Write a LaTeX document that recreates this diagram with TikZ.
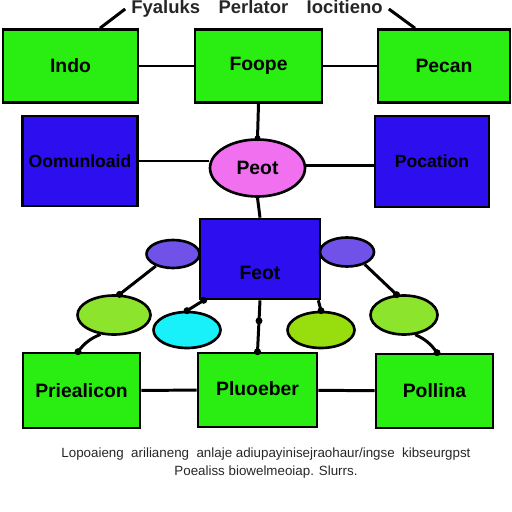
\documentclass[tikz,border=0pt]{standalone}
\usepackage{fontspec}
\setmainfont{Liberation Sans}
\usepackage{xcolor}
\usetikzlibrary{positioning, arrows.meta, shapes.geometric}

\definecolor{boxgreen}{RGB}{42,238,18}
\definecolor{boxblue}{RGB}{44,14,238}
\definecolor{ovpink}{RGB}{240,112,240}
\definecolor{ovpurple}{RGB}{112,82,232}
\definecolor{ovlgreen}{RGB}{140,228,44}
\definecolor{ovcyan}{RGB}{24,240,250}
\definecolor{ovlime}{RGB}{152,222,14}

\begin{document}
\begin{tikzpicture}[
    x=0.2mm, y=-0.2mm,
    gbox/.style={rectangle, draw=black, line width=1.5pt, fill=boxgreen,
                 minimum width=26mm, minimum height=14.6mm, font=\bfseries\fontsize{11}{13}\selectfont},
    bbox/.style={rectangle, draw=black, line width=1.5pt, fill=boxblue,
                 minimum width=23mm, minimum height=18mm, font=\bfseries\fontsize{10}{12}\selectfont},
    oval/.style={ellipse, draw=black, line width=1.5pt, inner sep=0pt},
    link/.style={line width=1.7pt, black},
    dot/.style={circle, fill=black, inner sep=0pt, minimum size=1.4mm}
]
    \useasboundingbox (0,0) rectangle (512,512);

    % heading
    \node[font=\bfseries\fontsize{10.5}{13}\selectfont, text=black!85] (title) at (257,9) {Fyaluks\quad Perlator\quad Iocitieno};

    % top row
    \node[gbox, minimum width=27mm] (inbox) at (70.5,66) {Indo};
    \node[gbox, minimum width=25.4mm] (foope) at (258.5,66) {Foope};
    \node[gbox, minimum width=26.4mm] (pecan) at (444,66) {Pecan};

    % middle row
    \node[bbox] (oomun) at (80,161) {Oomunloaid};
    \node[bbox, minimum width=22.8mm, minimum height=18.2mm] (pocat) at (432,161.5) {Pocation};
    \node[oval, fill=ovpink, minimum width=19mm, minimum height=11.4mm,
          font=\bfseries\fontsize{11}{13}\selectfont] (peot) at (257.5,168) {Peot};
    \node[rectangle, draw=black, line width=1.5pt, fill=boxblue, minimum width=24mm, minimum height=16mm,
          text depth=0pt, font=\bfseries\fontsize{11}{13}\selectfont] (feot) at (260,259) {\raisebox{-4mm}{Feot}};

    % small ovals
    \node[oval, fill=ovpurple, minimum width=10.6mm, minimum height=5.6mm] (lpurp) at (173,254) {};
    \node[oval, fill=ovpurple, minimum width=10.8mm, minimum height=5.8mm] (rpurp) at (347,252) {};
    \node[oval, fill=ovlgreen, minimum width=14.6mm, minimum height=7.8mm] (lgreen) at (114,315) {};
    \node[oval, fill=ovcyan, minimum width=13.4mm, minimum height=7.2mm] (cyan) at (187,330) {};
    \node[oval, fill=ovlime, minimum width=13.4mm, minimum height=7.2mm] (lime) at (321,330) {};
    \node[oval, fill=ovlgreen, minimum width=13.4mm, minimum height=7.8mm] (rgreen) at (404,315) {};

    % bottom row
    \node[gbox, minimum width=23.4mm, minimum height=15mm] (priea) at (81.5,390.5) {Priealicon};
    \node[gbox, minimum width=23.8mm, minimum height=14.8mm] (pluoe) at (257.5,390) {\raisebox{0.8mm}{Pluoeber}};
    \node[gbox, minimum width=23.4mm, minimum height=14.8mm] (polli) at (434.5,391) {Pollina};

    % note
    \node[font=\fontsize{7.6}{10}\selectfont, align=center, text=black!85] (note) at (266,463)
        {Lopoaieng\ \ arilianeng\ \ anlaje adiupayinisejraohaur/ingse\ \ kibseurgpst\\
         Poealiss biowelmeoiap. Slurrs.};

    % links
    \draw[link] (title.west) -- ([xshift=5.9mm]inbox.north);
    \draw[link] (title.east) -- ([xshift=-5.8mm]pecan.north);
    \draw[link] (inbox) -- (foope);
    \draw[link] (foope) -- (pecan);
    \draw[link] (foope.south) -- (peot.north) node[dot, minimum size=1.2mm] {};
    \draw[link] (oomun.east) -- (oomun.east -| peot.west);
    \draw[link] ([yshift=-0.8mm]pocat.west -| peot.east) -- ([yshift=-0.8mm]pocat.west);
    \draw[link] (peot.south) -- (feot.north);
    \draw[link] (lpurp.215) -- (lgreen.75) node[dot] {};
    \draw[link] ([xshift=1mm]feot.south west) node[dot] {} -- (cyan.north) node[dot] {};
    \draw[link] ([xshift=-0.6mm]feot.south east) -- (lime.north) node[dot] {};
    \draw[link] (rpurp.-35) -- (rgreen.110) node[dot] {};
    \draw[link] (feot.south) -- (pluoe.north) node[dot, pos=0.4] {} node[dot] {};
    \draw[link] (lgreen.235) to[bend right=15] ([xshift=-0.7mm]priea.north) node[dot] {};
    \draw[link] (rgreen.-60) to[bend left=15] ([xshift=0.5mm]polli.north) node[dot] {};
    \draw[link] (priea) -- (pluoe);
    \draw[link] (pluoe) -- (polli);
\end{tikzpicture}
\end{document}
